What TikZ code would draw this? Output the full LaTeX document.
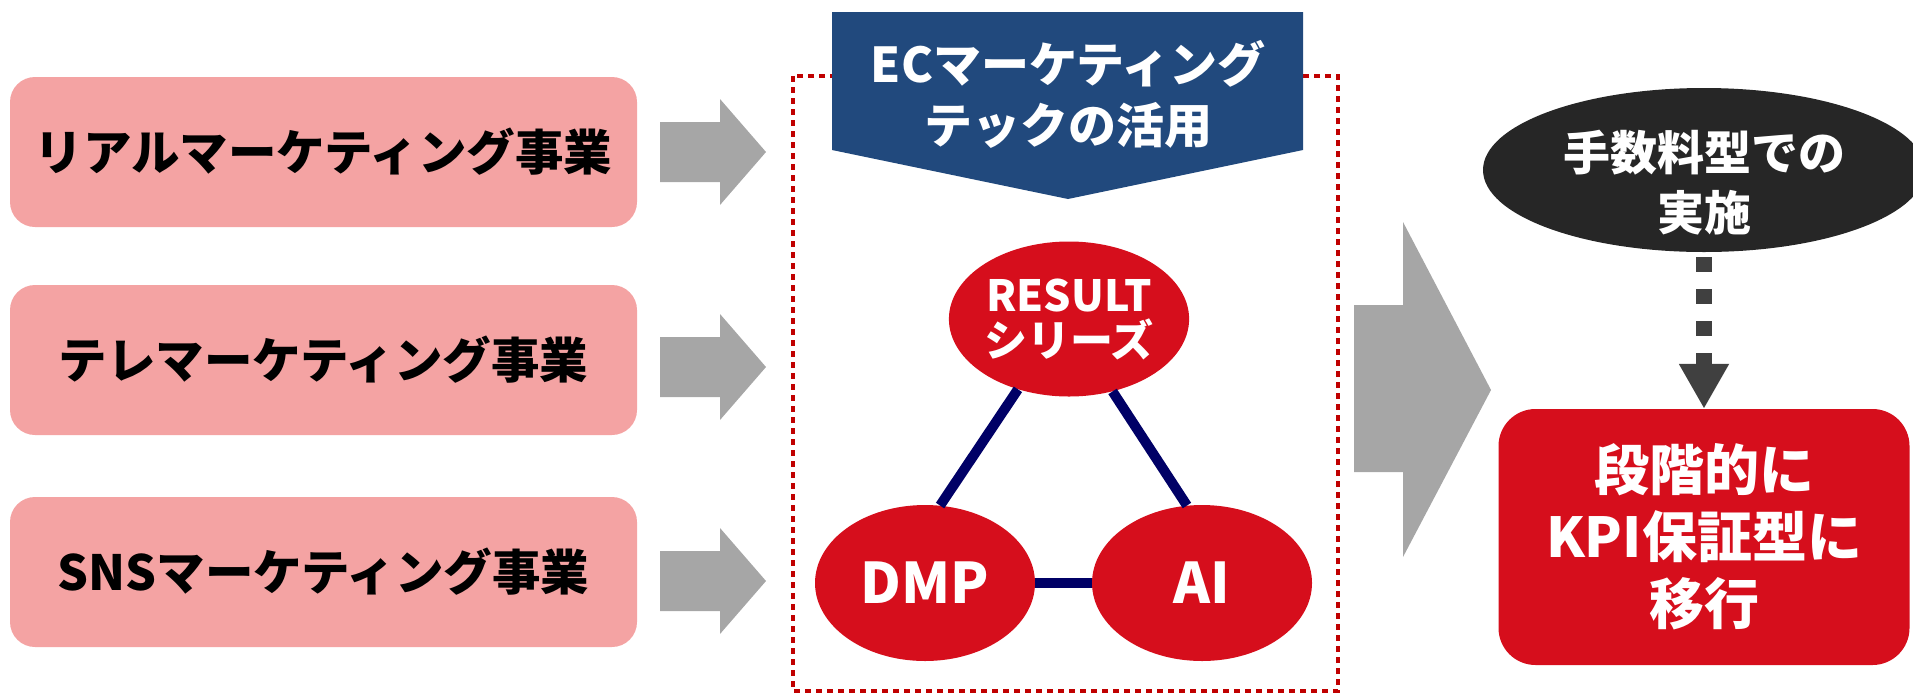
\documentclass[tikz,border=0pt]{standalone}
\usepackage{fontspec}
\setmainfont{Noto Sans CJK JP}
\usetikzlibrary{shapes.geometric,arrows.meta}
\definecolor{ecpink}{RGB}{244,163,163}
\definecolor{ecred}{RGB}{214,14,28}
\definecolor{ecblue}{RGB}{33,73,125}
\definecolor{ecnavy}{RGB}{0,0,102}
\definecolor{ecgray}{RGB}{166,166,166}
\definecolor{ecdark}{RGB}{38,38,38}
\definecolor{ecarrow}{RGB}{64,64,64}
\definecolor{ecdot}{RGB}{192,0,0}

\begin{document}
\begin{tikzpicture}[x=1pt,y=-1pt,
  bizbox/.style={fill=ecpink, rounded corners=25pt, minimum width=627pt,
    minimum height=150pt, font=\fontsize{48.5}{56}\selectfont\bfseries},
  techball/.style={ellipse, fill=ecred, text=white, inner sep=0pt, align=center},
  link/.style={ecnavy, line width=10pt}]
\useasboundingbox (0,0) rectangle (1913,697);

% Business lines
\node[bizbox] (real) at (323.5,152) {リアルマーケティング事業};
\node[bizbox] (tele) at (323.5,360) {テレマーケティング事業};
\node[bizbox] (sns) at (323.5,572) {SNSマーケティング事業};

% Small arrows
\foreach \y in {152,367,581} {
  \fill[ecgray] (660,\y-30) -- (720,\y-30) -- (720,\y-53) -- (766,\y)
    -- (720,\y+53) -- (720,\y+30) -- (660,\y+30) -- cycle;
}

% EC marketing frame
\draw[ecdot, line width=4.5pt, dash pattern=on 6pt off 5pt] (793,76) rectangle (1338,691);

% Banner
\fill[ecblue] (832,12) -- (1303,12) -- (1303,150) -- (1068,199) -- (832,150) -- cycle;
\node[text=white, align=center, font=\fontsize{48}{61}\selectfont\bfseries] (ectitle)
  at (1068,94) {ECマーケティング\\テックの活用};

% Tech triangle
\node[techball, minimum width=240pt, minimum height=155pt,
  font=\fontsize{43}{45}\selectfont\bfseries] (result) at (1069,319) {RESULT\\シリーズ};
\node[techball, minimum width=220pt, minimum height=156pt,
  font=\fontsize{56}{60}\selectfont\bfseries] (dmp) at (925,583) {DMP};
\node[techball, minimum width=220pt, minimum height=156pt,
  font=\fontsize{56}{60}\selectfont\bfseries] (ai) at (1202,583) {AI};
\draw[link] (result.234) -- (dmp.79);
\draw[link] (result.301) -- (ai.101);
\draw[link] (dmp) -- (ai);

% Big arrow
\fill[ecgray] (1354,305) -- (1403,305) -- (1403,222) -- (1491,390) -- (1403,557)
  -- (1403,472) -- (1354,472) -- cycle;

% Fee model and KPI model
\node[ellipse, fill=ecdark, text=white, minimum width=442pt, minimum height=164pt,
  align=center, font=\fontsize{47}{60}\selectfont\bfseries] (fee) at (1704,170) {};
\node[text=white, align=center, font=\fontsize{47}{60}\selectfont\bfseries] (feetext)
  at (1704,183) {手数料型での\\実施};
\node[fill=ecred, rounded corners=37pt, minimum width=411pt, minimum height=256pt,
  text=white, align=center, font=\fontsize{55}{67}\selectfont\bfseries] (kpi)
  at (1704,537) {段階的に\\KPI保証型に\\移行};
\draw[ecarrow, line width=16pt, dash pattern=on 15pt off 17pt, shorten <=5pt,
  -{Triangle[width=47pt,length=45pt]}] (fee) -- (kpi);
\end{tikzpicture}
\end{document}
